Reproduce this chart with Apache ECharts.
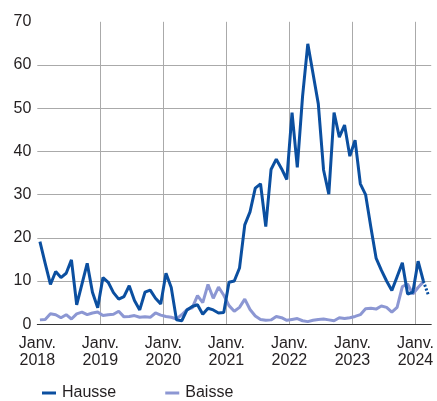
<!DOCTYPE html>
<html>
<head>
<meta charset="utf-8">
<script src="https://cdn.jsdelivr.net/npm/echarts@6/dist/echarts.min.js"></script>
<style>
html,body{margin:0;padding:0;background:#fff;}
#c{width:437px;height:401px;}
</style>
</head>
<body>
<div id="c"></div>
<script>
const yearLabels = ['2018','2019','2020','2021','2022','2023','2024'];
const monthPrefix = 'Janv.';
const yTicks = [0,10,20,30,40,50,60,70];
// monthly values from Jan 2018
const hausse = [19.1,14.1,9.2,12.2,10.8,11.8,14.9,4.5,9.3,14.1,7.4,3.8,
  10.8,9.7,7.3,5.8,6.4,8.9,5.5,3.3,7.4,7.9,6.0,4.7,
  11.8,8.5,1.0,0.8,3.3,4.1,4.5,2.3,3.7,3.3,2.6,2.7,
  9.7,10.0,13.0,23.0,26.0,31.5,32.5,22.6,35.8,38.2,36.0,33.5,
  49.0,36.3,52.7,64.9,58.0,51.0,35.7,30.1,49.0,43.3,46.1,38.9,
  42.6,32.5,30.0,22.5,15.3,12.5,10.0,7.8,11.0,14.2,7.0,7.4,
  14.6,10.0];
const hausseProv = [null,null,null,null,null,null,null,null,null,null,null,null,
  null,null,null,null,null,null,null,null,null,null,null,null,
  null,null,null,null,null,null,null,null,null,null,null,null,
  null,null,null,null,null,null,null,null,null,null,null,null,
  null,null,null,null,null,null,null,null,null,null,null,null,
  null,null,null,null,null,null,null,null,null,null,null,null,
  null,10.0,6.6];
const baisse = [1.0,1.1,2.4,2.2,1.5,2.2,1.2,2.4,2.8,2.2,2.6,2.8,
  2.0,2.2,2.3,3.0,1.7,1.8,2.0,1.6,1.7,1.6,2.6,2.1,
  1.8,1.6,1.2,2.2,3.4,3.8,6.6,5.0,9.2,6.0,8.6,6.7,
  4.3,3.0,3.9,5.8,3.4,1.9,1.1,0.9,1.0,1.8,1.5,0.9,
  1.1,1.3,0.8,0.6,0.9,1.1,1.2,1.0,0.8,1.5,1.3,1.5,
  1.8,2.2,3.6,3.7,3.5,4.2,3.9,2.8,3.9,8.7,9.3,7.0,
  8.5,9.8];
const totalMonths = 75;

const toXY = arr => arr.map((v,i) => [i + 0.5, v]);
const font = '"Liberation Sans Narrow","Liberation Sans",Arial,sans-serif';
const txt = '#231f20';

const chart = echarts.init(document.getElementById('c'), null, {renderer:'canvas'});
chart.setOption({
  animation:false,
  grid:{left:37.3, right:0, top:21.8, bottom:76.8, containLabel:false},
  xAxis:{
    type:'value', min:0, max:totalMonths, interval:12,
    axisLine:{show:true, lineStyle:{color:'#333', width:1}},
    axisTick:{show:false},
    axisLabel:{
      color:txt, fontSize:16, fontFamily:font, lineHeight:17, margin:11,
      showMinLabel:true, showMaxLabel:false,
      formatter: v => { const k = Math.round(v/12); return (v % 12 === 0 && yearLabels[k]) ? monthPrefix + '\n' + yearLabels[k] : ''; }
    },
    splitLine:{show:true, showMinLine:false, showMaxLine:false, lineStyle:{color:'#aaaaaa', width:1}}
  },
  yAxis:{
    type:'value', min:yTicks[0], max:yTicks[yTicks.length-1], interval:10,
    axisLine:{show:false}, axisTick:{show:false},
    axisLabel:{color:txt, fontSize:16, fontFamily:font, margin:6},
    splitLine:{show:true, showMaxLine:false, lineStyle:{color:'#aaaaaa', width:1}}
  },
  legend:{
    left:37, top:380, itemGap:49, itemWidth:14, itemHeight:3,
    textStyle:{color:txt, fontSize:16, fontFamily:font, padding:[0,0,0,1]},
    data:[{name:'Hausse', icon:'rect'},{name:'Baisse', icon:'rect'}]
  },
  series:[
    {name:'Baisse', type:'line', data:toXY(baisse), symbol:'none', color:'#8c97d3',
     lineStyle:{width:3, color:'#8c97d3'}, z:2},
    {name:'Hausse', type:'line', data:toXY(hausse), symbol:'none', color:'#0b4fa0',
     lineStyle:{width:3, color:'#0b4fa0'}, z:3},
    {name:'Hausse', type:'line', data:toXY(hausseProv), symbol:'none', color:'#0b4fa0',
     lineStyle:{width:3, color:'#0b4fa0', type:[2,2]}, z:3}
  ]
});
</script>
</body>
</html>
